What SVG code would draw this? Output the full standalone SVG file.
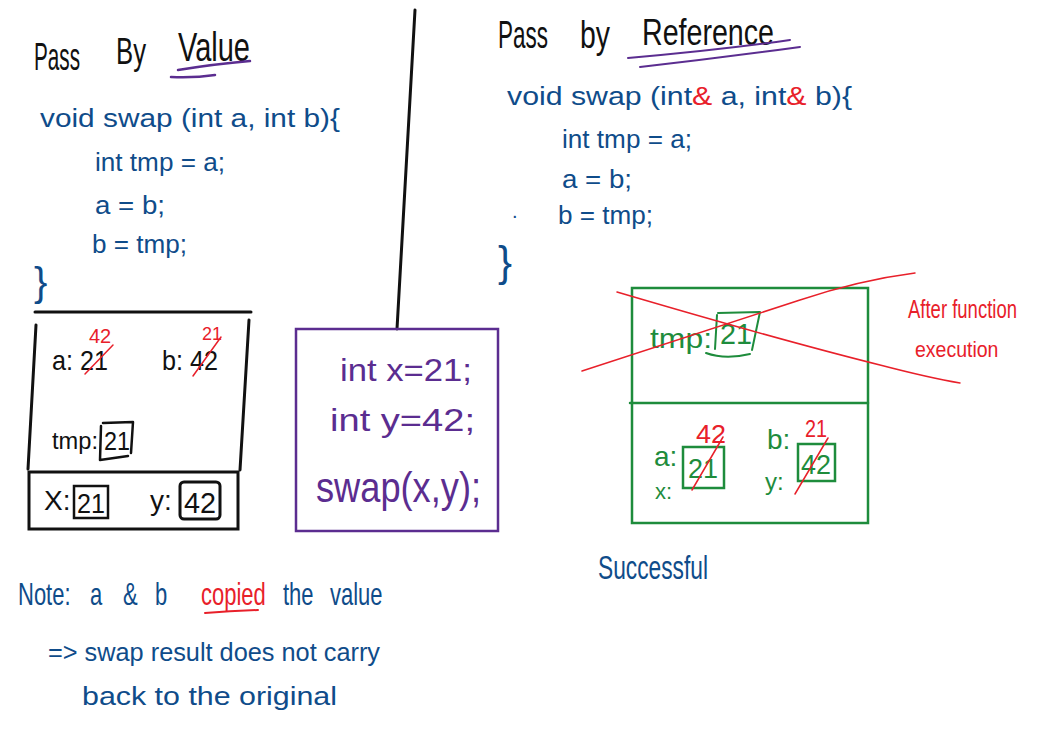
<svg xmlns="http://www.w3.org/2000/svg" width="1046" height="753" viewBox="0 0 1046 753">
<style>
text{font-family:"Liberation Sans","DejaVu Sans",sans-serif;}
.k{fill:#111}
.b{fill:#0f4c8a}
.r{fill:#e8202a}
.g{fill:#1e8c3c}
.p{fill:#5b2d90}
.ln{fill:none;stroke-linecap:round;stroke-linejoin:round}
.nt{font-size:22px}
</style>
<rect width="1046" height="753" fill="#fff"/>

<g id="pass-by-value">
  <text class="k" x="34" y="70" font-size="38" textLength="46" lengthAdjust="spacingAndGlyphs">Pass</text>
  <text class="k" x="116" y="64" font-size="36" textLength="30" lengthAdjust="spacingAndGlyphs">By</text>
  <text class="k" x="178" y="61" font-size="40" textLength="72" lengthAdjust="spacingAndGlyphs">Value</text>
  <path class="ln" d="M178 70 Q215 64 250 61 M171 77 Q195 78 215 75" stroke="#5b2d90" stroke-width="2.5"/>
  <text class="b" x="40" y="127" font-size="26" textLength="300" lengthAdjust="spacingAndGlyphs">void  swap (int a, int b){</text>
  <text class="b" x="95" y="171" font-size="25" textLength="130" lengthAdjust="spacingAndGlyphs">int tmp = a;</text>
  <text class="b" x="95" y="214" font-size="25" textLength="70" lengthAdjust="spacingAndGlyphs">a = b;</text>
  <text class="b" x="92" y="253" font-size="25" textLength="95" lengthAdjust="spacingAndGlyphs">b = tmp;</text>
  <text class="b" x="34" y="296" font-size="40">}</text>
</g>

<g id="stack-value">
  <path class="ln" d="M35 312 L251 312 M36 325 L28 469 M249 320 L240 470" stroke="#111" stroke-width="3"/>
  <rect x="29" y="472" width="209" height="57" fill="none" stroke="#111" stroke-width="3"/>
  <text class="k" x="52" y="370" font-size="28" textLength="56" lengthAdjust="spacingAndGlyphs">a: 21</text>
  <path class="ln" d="M85 374 L113 345" stroke="#e8202a" stroke-width="1.5"/>
  <text class="r" x="89" y="343" font-size="20">42</text>
  <text class="k" x="162" y="370" font-size="28" textLength="56" lengthAdjust="spacingAndGlyphs">b: 42</text>
  <path class="ln" d="M193 376 L221 337" stroke="#e8202a" stroke-width="1.5"/>
  <text class="r" x="202" y="340" font-size="18">21</text>
  <text class="k" x="52" y="449" font-size="24" textLength="46" lengthAdjust="spacingAndGlyphs">tmp:</text>
  <path class="ln" d="M103 423 L133 422 L131 453 M101 426 L100 460 L128 456" stroke="#111" stroke-width="2.5"/>
  <text class="k" x="104" y="450" font-size="26" textLength="26" lengthAdjust="spacingAndGlyphs">21</text>
  <text class="k" x="44" y="510" font-size="28">X:</text>
  <rect x="74" y="486" width="34" height="32" fill="none" stroke="#111" stroke-width="2.5"/>
  <text class="k" x="77" y="513" font-size="28" textLength="28" lengthAdjust="spacingAndGlyphs">21</text>
  <text class="k" x="150" y="510" font-size="28">y:</text>
  <rect x="180" y="482" width="40" height="37" rx="4" fill="none" stroke="#111" stroke-width="3"/>
  <text class="k" x="184" y="513" font-size="29" textLength="32" lengthAdjust="spacingAndGlyphs">42</text>
</g>

<g id="divider">
  <path class="ln" d="M415 10 L397 329" stroke="#111" stroke-width="3"/>
</g>

<g id="main-code">
  <rect x="296" y="329" width="202" height="202" fill="none" stroke="#5b2d90" stroke-width="2.5"/>
  <text class="p" x="340" y="381" font-size="32" textLength="132" lengthAdjust="spacingAndGlyphs">int  x=21;</text>
  <text class="p" x="330" y="431" font-size="32" textLength="145" lengthAdjust="spacingAndGlyphs">int   y=42;</text>
  <text class="p" x="316" y="502" font-size="42" textLength="165" lengthAdjust="spacingAndGlyphs">swap(x,y);</text>
</g>

<g id="note">
  <text class="b nt" transform="translate(18,605) scale(1,1.45)">Note:</text>
  <text class="b nt" transform="translate(90,605) scale(1,1.45)">a</text>
  <text class="b nt" transform="translate(123,605) scale(1,1.45)">&amp;</text>
  <text class="b nt" transform="translate(155,605) scale(1,1.45)">b</text>
  <text class="r nt" transform="translate(201,605) scale(1,1.45)">copied</text>
  <text class="b nt" transform="translate(283,605) scale(1,1.45)">the</text>
  <text class="b nt" transform="translate(330,605) scale(1,1.45)">value</text>
  <path class="ln" d="M205 613 Q230 611 258 610" stroke="#e8202a" stroke-width="2"/>
  <text class="b" x="48" y="661" font-size="25" textLength="332" lengthAdjust="spacingAndGlyphs">=&gt; swap  result does  not  carry</text>
  <text class="b" x="82" y="705" font-size="25" textLength="255" lengthAdjust="spacingAndGlyphs">back  to  the  original</text>
</g>

<g id="pass-by-reference">
  <text class="k" x="498" y="48" font-size="38" textLength="50" lengthAdjust="spacingAndGlyphs">Pass</text>
  <text class="k" x="580" y="48" font-size="38" textLength="30" lengthAdjust="spacingAndGlyphs">by</text>
  <text class="k" x="642" y="45" font-size="36" textLength="132" lengthAdjust="spacingAndGlyphs">Reference</text>
  <path class="ln" d="M628 58 Q720 50 790 40 M640 67 Q720 58 800 47" stroke="#5b2d90" stroke-width="2"/>
  <text class="b" x="507" y="105" font-size="26" textLength="345" lengthAdjust="spacingAndGlyphs">void  swap (int<tspan class="r">&amp;</tspan> a, int<tspan class="r">&amp;</tspan> b){</text>
  <text class="b" x="562" y="148" font-size="25" textLength="130" lengthAdjust="spacingAndGlyphs">int tmp = a;</text>
  <text class="b" x="562" y="188" font-size="25" textLength="70" lengthAdjust="spacingAndGlyphs">a = b;</text>
  <text class="b" x="512" y="218" font-size="20">.</text>
  <text class="b" x="558" y="224" font-size="25" textLength="95" lengthAdjust="spacingAndGlyphs">b = tmp;</text>
  <text class="b" x="498" y="276" font-size="42">}</text>
</g>

<g id="stack-reference">
  <rect x="632" y="288" width="236" height="235" fill="none" stroke="#1e8c3c" stroke-width="2.5"/>
  <path class="ln" d="M630 403 L868 403" stroke="#1e8c3c" stroke-width="2.5"/>
  <text class="g" x="650" y="348" font-size="28" textLength="62" lengthAdjust="spacingAndGlyphs">tmp:</text>
  <path class="ln" d="M718 313 L760 312 L752 350 M717 315 L715 349" stroke="#1e8c3c" stroke-width="2"/>
  <text class="g" x="720" y="344" font-size="30" textLength="32" lengthAdjust="spacingAndGlyphs">21</text>
  <path class="ln" d="M706 353 Q725 360 750 354" stroke="#1e8c3c" stroke-width="2"/>
  <text class="g" x="654" y="466" font-size="28">a:</text>
  <text class="g" x="655" y="499" font-size="22">x:</text>
  <rect x="683" y="447" width="41" height="41" fill="none" stroke="#1e8c3c" stroke-width="2.5"/>
  <text class="g" x="688" y="478" font-size="27" textLength="30" lengthAdjust="spacingAndGlyphs">21</text>
  <text class="r" x="696" y="443" font-size="26" textLength="30" lengthAdjust="spacingAndGlyphs">42</text>
  <path class="ln" d="M692 490 L723 437" stroke="#e8202a" stroke-width="1.5"/>
  <text class="g" x="767" y="449" font-size="28">b:</text>
  <text class="g" x="765" y="490" font-size="24">y:</text>
  <rect x="798" y="444" width="37" height="37" fill="none" stroke="#1e8c3c" stroke-width="2.5"/>
  <text class="g" x="801" y="474" font-size="27" textLength="30" lengthAdjust="spacingAndGlyphs">42</text>
  <text class="r" x="805" y="437" font-size="24" textLength="22" lengthAdjust="spacingAndGlyphs">21</text>
  <path class="ln" d="M795 494 L828 438" stroke="#e8202a" stroke-width="1.5"/>
  <path class="ln" d="M582 371 Q740 320 800 300 Q860 280 915 273 M617 292 Q780 340 880 365 Q930 378 960 383" stroke="#e8202a" stroke-width="1.5"/>
  <text class="r" font-size="18.5" transform="translate(908,318) scale(1,1.4)">After function</text>
  <text class="r" font-size="19.5" transform="translate(915,357) scale(1,1.15)">execution</text>
  <text class="b" x="598" y="579" font-size="34" textLength="110" lengthAdjust="spacingAndGlyphs">Successful</text>
</g>
</svg>
